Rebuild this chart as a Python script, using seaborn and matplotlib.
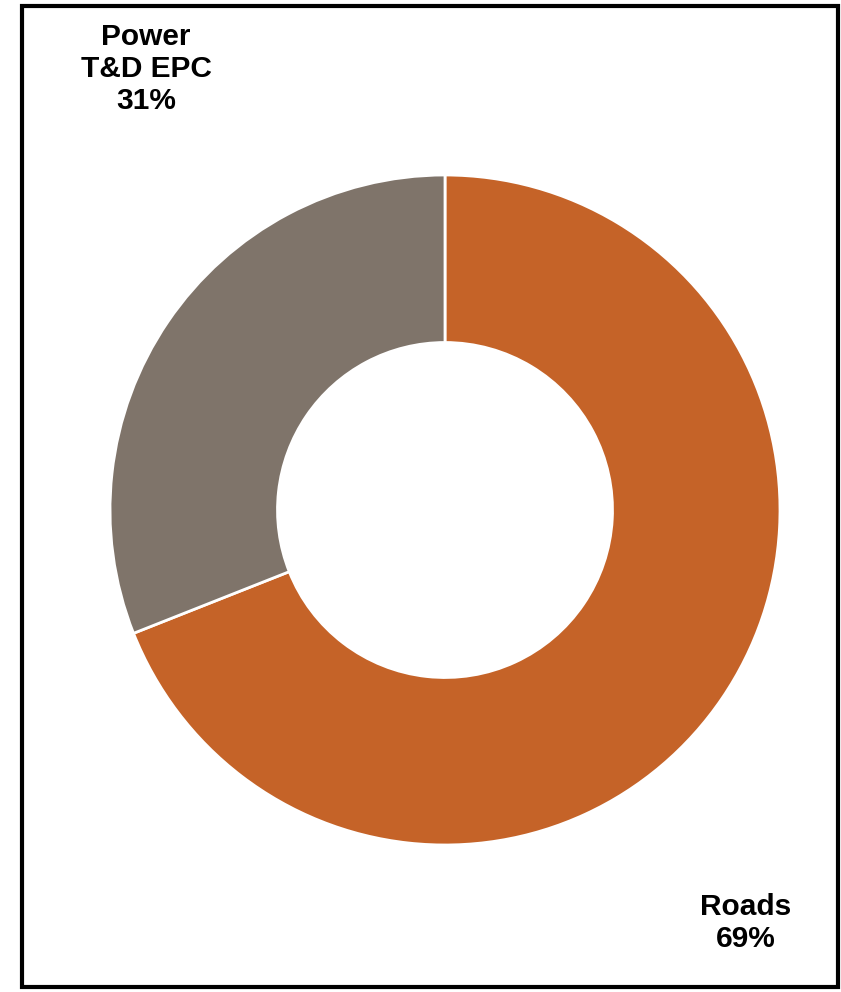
import matplotlib
matplotlib.use("Agg")
import matplotlib.pyplot as plt
import seaborn as sns
from matplotlib.patches import Rectangle

segments = ["Roads", "Power\nT&D EPC"]
shares = [69, 31]
seg_colors = ["#C56328", "#7F746A"]

sns.set_style("white")
plt.rcParams["font.family"] = ["Liberation Sans", "DejaVu Sans"]

W, H = 841, 992
fig = plt.figure(figsize=(W / 100, H / 100), dpi=100)

# donut centre (445, 510) px, outer radius 335 px
cx, cy, r = 445, 510, 335
ax = fig.add_axes([(cx - r) / W, (H - cy - r) / H, 2 * r / W, 2 * r / H])
ax.pie(shares, colors=seg_colors, startangle=90, counterclock=False,
       radius=1, wedgeprops=dict(width=0.5, edgecolor="white", linewidth=2))
ax.set_xlim(-1, 1)
ax.set_ylim(-1, 1)
ax.axis("off")

# labels
lab = dict(ha="center", va="center", fontsize=21.5, fontweight="bold",
           linespacing=1.2, color="black")
fig.text(146 / W, 1 - 69 / H, f"{segments[1]}\n{shares[1]}%", **lab)
fig.text(746 / W, 1 - 923 / H, f"{segments[0]}\n{shares[0]}%", **lab)

# frame around the chart
fig.patches.append(Rectangle((22 / W, 1 - 987 / H), (838 - 22) / W, (987 - 6) / H,
                             transform=fig.transFigure, fill=False,
                             edgecolor="black", linewidth=3))

fig.savefig("out.png", dpi=100)
